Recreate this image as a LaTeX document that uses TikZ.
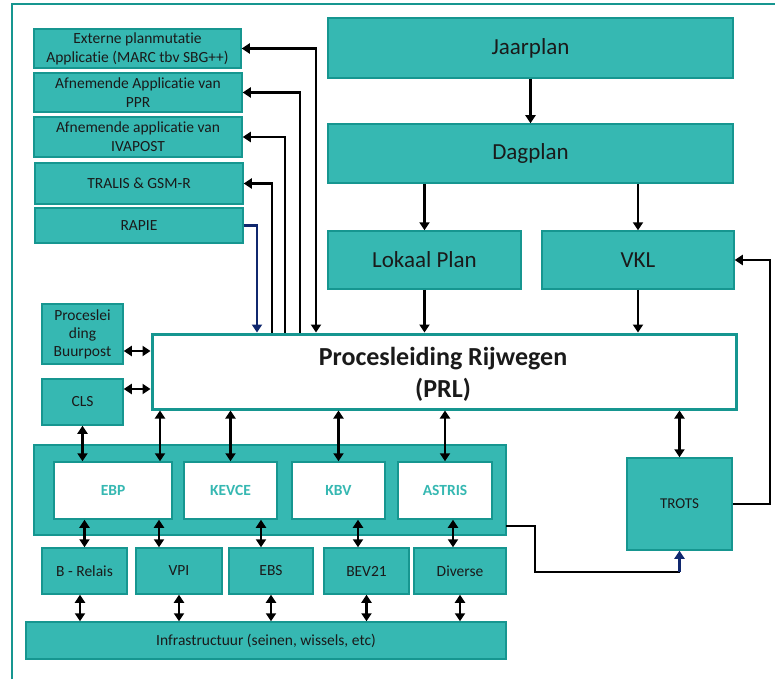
\documentclass[tikz,border=0pt]{standalone}
\usepackage{fontspec}
\setmainfont{Carlito}[Ligatures={NoCommon}]
\usetikzlibrary{arrows.meta}
\definecolor{tealfill}{RGB}{54,184,178}
\definecolor{tealedge}{RGB}{22,150,144}
\definecolor{txt}{RGB}{26,26,26}
\definecolor{navyline}{RGB}{16,40,110}
\begin{document}
\begin{tikzpicture}[x=1pt,y=-1pt,
  tbox/.style={draw=tealedge, line width=1.5pt, fill=tealfill, text=txt, align=center, inner sep=0pt, font=\fontsize{15.5}{19}\selectfont},
  bigbox/.style={tbox, font=\fontsize{23}{27}\selectfont},
  wbox/.style={draw=tealedge, line width=1.5pt, fill=white, text=tealfill, align=center, inner sep=0pt, font=\fontsize{15.5}{19}\selectfont\bfseries},
  con/.style={line width=2.8pt, draw=black, line join=miter},
  tipend/.style={con, -{Triangle[length=8pt,width=10pt]}},
  tipstart/.style={con, {Triangle[length=8pt,width=10pt]}-},
  tipboth/.style={con, {Triangle[length=8pt,width=10pt]}-{Triangle[length=8pt,width=10pt]}},
  navyarrow/.style={line width=2.8pt, draw=navyline, -{Triangle[length=8pt,width=10pt]}}
]
\useasboundingbox (0,0) rectangle (775,679);
% outer frame
\draw[tealedge, line width=2.5pt] (12,679) -- (12,4) -- (775,4);

% left application boxes
\node[tbox, minimum width=207pt, minimum height=39pt] (ext) at (137.5,48.5) {Externe planmutatie\\Applicatie (MARC tbv SBG++)};
\node[tbox, minimum width=208pt, minimum height=39pt] (ppr) at (138,92.5) {Afnemende Applicatie van\\PPR};
\node[tbox, minimum width=208pt, minimum height=40pt] (iva) at (138,137) {Afnemende applicatie van\\IVAPOST};
\node[tbox, minimum width=208pt, minimum height=41pt] (tralis) at (139,183.5) {TRALIS \& GSM-R};
\node[tbox, minimum width=208pt, minimum height=35pt] (rapie) at (139,225.5) {RAPIE};

% planning boxes
\node[bigbox, minimum width=405pt, minimum height=60pt] (jaar) at (530.5,48) {Jaarplan};
\node[bigbox, minimum width=405pt, minimum height=59pt] (dag) at (530.5,153.5) {Dagplan};
\node[bigbox, minimum width=193pt, minimum height=58pt] (lokaal) at (424.5,260) {Lokaal Plan};
\node[bigbox, minimum width=192pt, minimum height=58pt] (vkl) at (638,260) {VKL};

% PRL
\node[draw=tealedge, line width=3pt, fill=white, text=txt, align=center, inner sep=0pt,
      minimum width=584pt, minimum height=75pt,
      font=\fontsize{26}{32}\selectfont\bfseries] (prl) at (444,371.5) {};
\node[text=txt, align=center, inner sep=0pt, font=\fontsize{26}{32}\selectfont\bfseries] (prltext) at (443,374) {Procesleiding Rijwegen\\(PRL)};

% left side boxes
\node[tbox, minimum width=81pt, minimum height=60pt, font=\fontsize{15.5}{18}\selectfont] (buur) at (82.5,334) {Proceslei\\ding\\Buurpost};
\node[tbox, minimum width=81pt, minimum height=46pt] (cls) at (82.5,402) {CLS};

% container with interlockings
\node[tbox, minimum width=472pt, minimum height=90pt] (cont) at (270,490) {};
\node[wbox, minimum width=118pt, minimum height=57pt] (ebp) at (113,490.5) {EBP};
\node[wbox, minimum width=93pt, minimum height=57pt] (kevce) at (230.5,490.5) {KEVCE};
\node[wbox, minimum width=93pt, minimum height=57pt] (kbv) at (338.5,490.5) {KBV};
\node[wbox, minimum width=94pt, minimum height=57pt] (astris) at (445,490.5) {ASTRIS};

% lower boxes
\node[tbox, minimum width=85pt, minimum height=46pt] (brel) at (84.5,571) {B - Relais};
\node[tbox, minimum width=86pt, minimum height=46pt] (vpi) at (179,571) {VPI};
\node[tbox, minimum width=84pt, minimum height=46pt] (ebs) at (271,571) {EBS};
\node[tbox, minimum width=85pt, minimum height=46pt] (bev) at (366.5,571) {BEV21};
\node[tbox, minimum width=92pt, minimum height=46pt] (div) at (460,571) {Diverse};
\node[tbox, minimum width=480pt, minimum height=37pt] (infra) at (266,640.5) {Infrastructuur (seinen, wissels, etc)};

% TROTS
\node[tbox, minimum width=105pt, minimum height=92pt, font=\fontsize{15}{18}\selectfont] (trots) at (679.5,504) {TROTS};

% helper coordinates
\coordinate (xe) at (316,0);
\coordinate (xp) at (300,0);
\coordinate (xi) at (285,0);
\coordinate (xt) at (272,0);
\coordinate (xr) at (257,0);
\coordinate (yb) at (0,351);
\coordinate (yc) at (0,389);
\coordinate (xeb) at (160,0);
\coordinate (xvpi) at (159,0);
\coordinate (xebs) at (261,0);
\coordinate (xbev) at (358,0);
\coordinate (xdiv) at (453,0);
\coordinate (xbrl) at (80,0);
\coordinate (r1) at (770,504);
\coordinate (b1) at (506,526);
\coordinate (b3) at (535,572);
\coordinate (b4) at (679.5,572);

% connectors to left application boxes
\draw[tipboth] (ext.east) -| (prl.north -| xe);
\draw[tipstart] (ppr.east) -| (prl.north -| xp);
\draw[tipstart] (iva.east) -| (prl.north -| xi);
\draw[tipstart] (tralis.east) -| (prl.north -| xt);
\draw[navyarrow] (rapie.east) -| (prl.north -| xr);

% planning flow
\draw[tipend] (jaar.south) -- (dag.north);
\draw[tipend] (dag.south -| lokaal) -- (lokaal.north);
\draw[tipend] (dag.south -| vkl) -- (vkl.north);
\draw[tipend] (lokaal.south) -- (lokaal.south |- prl.north);
\draw[tipend] (vkl.south) -- (vkl.south |- prl.north);

% TROTS
\draw[tipboth] (prl.south -| trots) -- (trots.north);
\draw[tipend] (trots.east) -- (r1) |- (vkl.east);
\draw[con] (b1) -| (b3) -- (b4);
\draw[navyarrow] (b4) -- (trots.south);

% left side
\draw[tipboth] (buur.east |- yb) -- (prl.west |- yb);
\draw[tipboth] (cls.east |- yc) -- (prl.west |- yc);
\draw[tipboth] (cls.south) -- (cls.south |- ebp.north);

% PRL to interlockings
\draw[tipboth] (prl.south -| xeb) -- (ebp.north -| xeb);
\draw[tipboth] (prl.south -| kevce) -- (kevce.north);
\draw[tipboth] (prl.south -| kbv) -- (kbv.north);
\draw[tipboth] (prl.south -| astris) -- (astris.north);

% interlockings to lower boxes
\draw[tipboth] (ebp.south -| brel) -- (brel.north);
\draw[tipboth] (ebp.south -| xvpi) -- (vpi.north -| xvpi);
\draw[tipboth] (kevce.south -| xebs) -- (ebs.north -| xebs);
\draw[tipboth] (kbv.south -| xbev) -- (bev.north -| xbev);
\draw[tipboth] (astris.south -| xdiv) -- (div.north -| xdiv);

% lower boxes to infrastructure
\draw[tipboth] (brel.south -| xbrl) -- (infra.north -| xbrl);
\draw[tipboth] (vpi.south) -- (vpi.south |- infra.north);
\draw[tipboth] (ebs.south) -- (ebs.south |- infra.north);
\draw[tipboth] (bev.south) -- (bev.south |- infra.north);
\draw[tipboth] (div.south) -- (div.south |- infra.north);
\end{tikzpicture}
\end{document}
